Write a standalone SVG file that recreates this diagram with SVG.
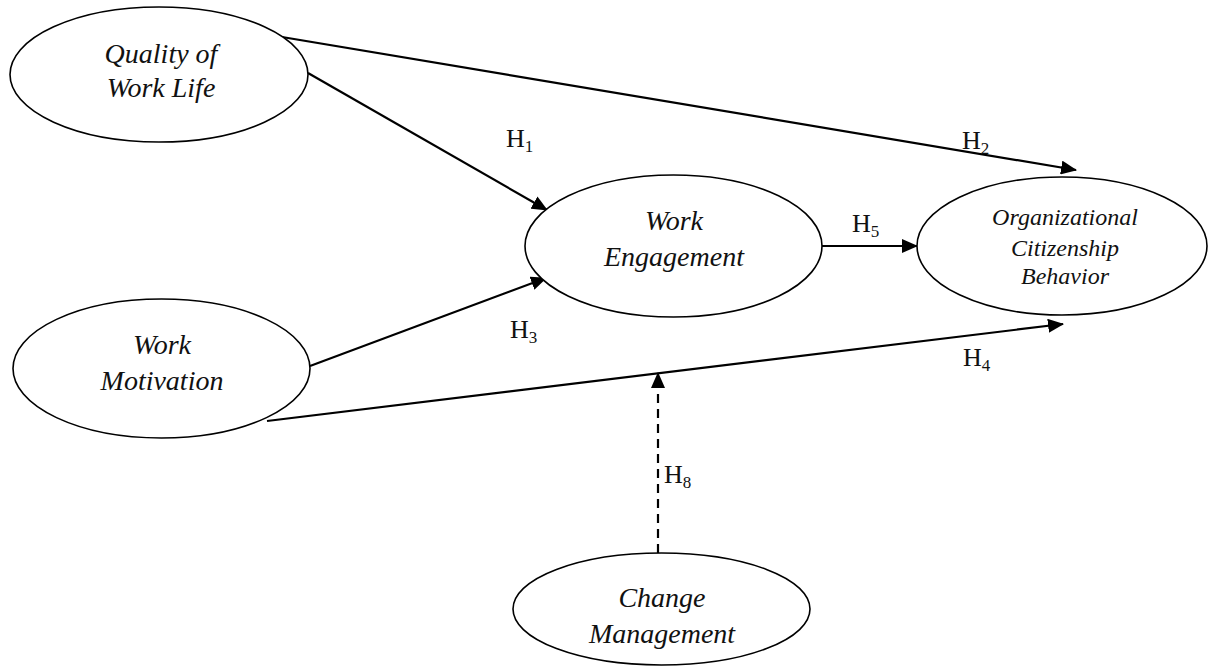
<svg xmlns="http://www.w3.org/2000/svg" width="1208" height="666" viewBox="0 0 1208 666">
<style>
.node{fill:#fff;stroke:#000;stroke-width:1.6}
.lbl{font-family:"Liberation Serif","Times New Roman",serif;font-style:italic;font-size:28px;fill:#111;text-anchor:middle}
.lbl2{font-family:"Liberation Serif","Times New Roman",serif;font-style:italic;font-size:24px;fill:#111;text-anchor:middle}
.h{font-family:"Liberation Serif","Times New Roman",serif;font-size:26px;fill:#111}
.sub{font-size:17px}
.edge{stroke:#000;stroke-width:2.2;fill:none}
.dash{stroke-dasharray:9 6}
</style>
<defs>
<marker id="arr" markerUnits="userSpaceOnUse" markerWidth="16" markerHeight="14" refX="15" refY="7" orient="auto">
<path d="M0,0 L16,7 L0,14 z" fill="#000"/>
</marker>
</defs>
<rect width="1208" height="666" fill="#fff"/>
<g id="connectors">
<line class="edge" x1="308" y1="73" x2="547" y2="210" marker-end="url(#arr)"/>
<line class="edge" x1="282" y1="37" x2="1076" y2="170" marker-end="url(#arr)"/>
<line class="edge" x1="822" y1="246" x2="917" y2="246" marker-end="url(#arr)"/>
<line class="edge" x1="310" y1="366" x2="546" y2="278" marker-end="url(#arr)"/>
<line class="edge" x1="267" y1="421" x2="1063" y2="324" marker-end="url(#arr)"/>
<line class="edge dash" x1="658" y1="553" x2="658" y2="373" marker-end="url(#arr)"/>
</g>
<g id="labels">
<text class="h" x="506" y="147">H<tspan class="sub" dy="5">1</tspan></text>
<text class="h" x="962" y="149">H<tspan class="sub" dy="5">2</tspan></text>
<text class="h" x="852" y="232">H<tspan class="sub" dy="5">5</tspan></text>
<text class="h" x="510" y="338">H<tspan class="sub" dy="5">3</tspan></text>
<text class="h" x="963" y="366">H<tspan class="sub" dy="5">4</tspan></text>
<text class="h" x="664" y="483">H<tspan class="sub" dy="5">8</tspan></text>
</g>
<g id="quality">
<ellipse class="node" cx="159" cy="74.5" rx="149" ry="67.5"/>
<text class="lbl" x="161" y="63">Quality of</text>
<text class="lbl" x="161" y="97">Work Life</text>
</g>
<g id="engagement">
<ellipse class="node" cx="673.5" cy="246" rx="148.5" ry="71"/>
<text class="lbl" x="674" y="230">Work</text>
<text class="lbl" x="674" y="266">Engagement</text>
</g>
<g id="ocb">
<ellipse class="node" cx="1062" cy="246" rx="145" ry="69"/>
<text class="lbl2" x="1065" y="225">Organizational</text>
<text class="lbl2" x="1065" y="256">Citizenship</text>
<text class="lbl2" x="1065" y="284">Behavior</text>
</g>
<g id="motivation">
<ellipse class="node" cx="161.5" cy="368.5" rx="148.5" ry="69.5"/>
<text class="lbl" x="162" y="354">Work</text>
<text class="lbl" x="162" y="390">Motivation</text>
</g>
<g id="change">
<ellipse class="node" cx="661.5" cy="609" rx="148.5" ry="56"/>
<text class="lbl" x="662" y="607">Change</text>
<text class="lbl" x="662" y="643">Management</text>
</g>
</svg>
